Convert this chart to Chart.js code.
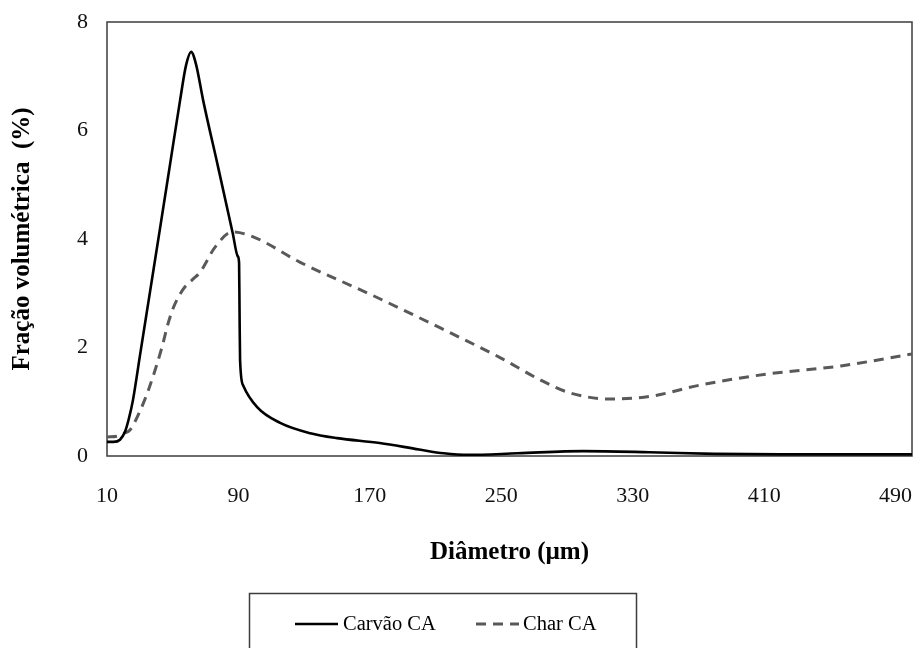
<!DOCTYPE html>
<html lang="pt">
<head>
<meta charset="utf-8">
<title>Distribuição granulométrica</title>
<script src="https://cdn.jsdelivr.net/npm/chart.js@4.4.1/dist/chart.umd.min.js"></script>
<style>
  html, body { margin: 0; padding: 0; background: #fff; }
  #grafico { display: block; }
</style>
</head>
<body>
<canvas id="grafico" width="918" height="648"></canvas>
<script>
// distribuição de tamanho de partícula: diâmetro (µm) x fração volumétrica (%)
const carvaoDiam = [10, 14, 17.9, 21, 23.4, 25.8, 30.1, 36.2, 42.3, 48.4,
  54.5, 58.1, 61.2, 64.2, 68.5, 77.6, 86.5, 89.6, 90.4, 90.7,
  91.0, 92.9, 101.4, 115.4, 133.7, 150, 176, 200, 215, 230,
  260, 300, 340, 380, 420, 500];
const carvaoFrac = [0.26, 0.26, 0.30, 0.45, 0.70, 1.03, 1.86, 3.03, 4.20, 5.38,
  6.56, 7.20, 7.45, 7.22, 6.56, 5.33, 4.11, 3.68, 3.56, 2.60,
  1.77, 1.30, 0.90, 0.61, 0.42, 0.33, 0.24, 0.12, 0.05, 0.02,
  0.05, 0.09, 0.07, 0.04, 0.03, 0.03];

const charDiam = [10, 16.7, 20.4, 24.0, 30.1, 35.6, 43.5, 46.6, 50.2, 54.0,
  57.5, 62.0, 66.7, 75.8, 86.2, 99.0, 127.6, 170.3, 212.9, 249.5,
  273.9, 292.1, 316.5, 340.9, 371.4, 411.6, 456.7, 500];
const charFrac = [0.35, 0.37, 0.42, 0.48, 0.83, 1.25, 2.01, 2.38, 2.72, 2.96,
  3.12, 3.25, 3.39, 3.85, 4.13, 4.04, 3.57, 2.98, 2.36, 1.81,
  1.40, 1.16, 1.05, 1.10, 1.31, 1.51, 1.66, 1.88];

const xTicks = [10, 90, 170, 250, 330, 410, 490];
const yTicks = [0, 2, 4, 6, 8];

const serif = '"Liberation Serif", "Times New Roman", serif';

function pares(xs, ys) {
  return xs.map((x, i) => ({ x: x, y: ys[i] }));
}

// moldura em volta da área do gráfico
const moldura = {
  id: 'moldura',
  beforeDatasetsDraw(chart) {
    const { ctx, chartArea: a } = chart;
    ctx.save();
    ctx.strokeStyle = '#3c3c3c';
    ctx.lineWidth = 1.5;
    ctx.strokeRect(a.left, a.top, a.right - a.left, a.bottom - a.top);
    ctx.restore();
  }
};

// legenda em caixa abaixo do eixo x
const legendaCaixa = {
  id: 'legendaCaixa',
  afterDraw(chart) {
    const ctx = chart.ctx;
    const sets = chart.data.datasets;
    const itens = [{ linha: 295, texto: 343 }, { linha: 476, texto: 523 }];
    const y = 624;
    ctx.save();
    ctx.strokeStyle = '#3c3c3c';
    ctx.lineWidth = 1.5;
    ctx.strokeRect(249.5, 593.5, 387, 90);
    sets.forEach((ds, i) => {
      const it = itens[i];
      ctx.beginPath();
      ctx.strokeStyle = ds.borderColor;
      ctx.lineWidth = ds.borderWidth;
      ctx.setLineDash(ds.borderDash || []);
      ctx.moveTo(it.linha, y);
      ctx.lineTo(it.linha + 43, y);
      ctx.stroke();
      ctx.setLineDash([]);
      ctx.fillStyle = '#000';
      ctx.font = '20.5px ' + serif;
      ctx.textBaseline = 'middle';
      ctx.textAlign = 'left';
      ctx.fillText(ds.label, it.texto, y + 1);
    });
    ctx.restore();
  }
};

const ctx = document.getElementById('grafico').getContext('2d');
new Chart(ctx, {
  type: 'line',
  data: {
    datasets: [
      {
        label: 'Carvão CA',
        data: pares(carvaoDiam, carvaoFrac),
        borderColor: '#000000',
        borderWidth: 2.6,
        pointRadius: 0,
        cubicInterpolationMode: 'monotone',
        fill: false
      },
      {
        label: 'Char CA',
        data: pares(charDiam, charFrac),
        borderColor: '#595959',
        borderWidth: 3,
        borderDash: [10, 7],
        pointRadius: 0,
        cubicInterpolationMode: 'monotone',
        fill: false
      }
    ]
  },
  options: {
    responsive: false,
    devicePixelRatio: 1,
    animation: false,
    layout: { padding: { left: 0, top: 22, right: 6, bottom: 80 } },
    plugins: {
      legend: { display: false },
      tooltip: { enabled: false }
    },
    scales: {
      x: {
        type: 'linear',
        min: 10,
        max: 500,
        grid: { display: false, drawTicks: false },
        border: { display: false },
        afterBuildTicks: s => { s.ticks = xTicks.map(v => ({ value: v })); },
        afterFit: s => {
          s.height = 112;
          s.paddingLeft = 0;
          s.paddingRight = 0;
        },
        ticks: {
          padding: 27,
          maxRotation: 0,
          color: '#111',
          font: { family: serif, size: 22 }
        },
        title: {
          display: true,
          text: 'Diâmetro (µm)',
          color: '#000',
          padding: { top: 0, bottom: 0 },
          font: { family: serif, size: 25, weight: 'bold' }
        }
      },
      y: {
        min: 0,
        max: 8,
        grid: { display: false, drawTicks: false },
        border: { display: false },
        afterBuildTicks: s => { s.ticks = yTicks.map(v => ({ value: v })); },
        afterFit: s => {
          s.width = 107;
          s.paddingTop = 0;
          s.paddingBottom = 0;
        },
        ticks: {
          padding: 19,
          color: '#111',
          font: { family: serif, size: 22 }
        },
        title: {
          display: true,
          text: 'Fração volumétrica  (%)',
          color: '#000',
          padding: { top: 8, bottom: 0 },
          font: { family: serif, size: 25, weight: 'bold' }
        }
      }
    }
  },
  plugins: [moldura, legendaCaixa]
});
</script>
</body>
</html>
